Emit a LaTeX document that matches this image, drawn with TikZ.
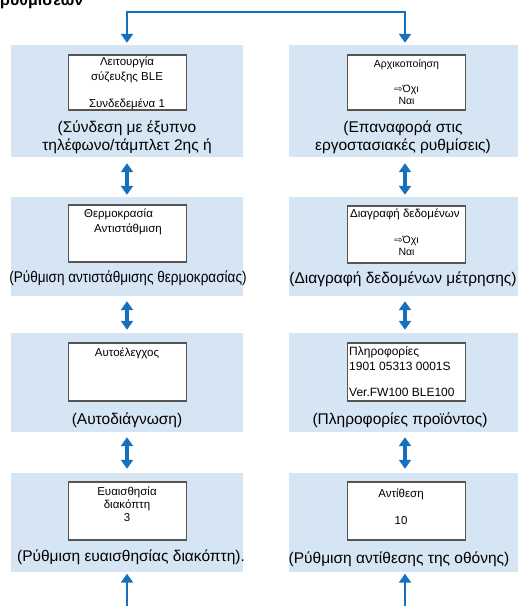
\documentclass[tikz,border=0pt]{standalone}
\usepackage{fontspec}
\usepackage{graphicx}
\setmainfont{Liberation Sans}
\newfontfamily\dejavu{DejaVu Sans}
\usetikzlibrary{arrows.meta}
\definecolor{panelblue}{HTML}{D5E5F4}
\definecolor{arrowblue}{HTML}{1670BE}
\definecolor{screenedge}{HTML}{555555}
\begin{document}
\begin{tikzpicture}[x=1pt,y=-1pt,
  panel/.style={fill=panelblue, draw=none, minimum width=232pt, minimum height=#1, inner sep=0pt},
  screen/.style={fill=white, draw=screenedge, line width=1.8pt, minimum width=118pt, minimum height=#1, inner sep=0pt},
  captext/.style={font=\fontsize{15.5}{18}\selectfont, inner sep=0pt, align=center},
  scr/.style={font=\fontsize{11.5}{13}\selectfont, inner sep=0pt},
  scrinfo/.style={font=\fontsize{12}{13}\selectfont, inner sep=0pt, anchor=west},
  scrsmall/.style={font=\fontsize{10.5}{11}\selectfont, inner sep=0pt},
  dbl/.style={draw=arrowblue, line width=3.5pt,
    {Triangle[width=12pt,length=9pt]}-{Triangle[width=12pt,length=9pt]}},
  conn/.style={draw=arrowblue, line width=2.5pt},
  tip/.style={-{Triangle[width=12pt,length=9pt]}},
  bothtip/.style={{Triangle[width=12pt,length=9pt]}-{Triangle[width=12pt,length=9pt]}}
]
\useasboundingbox (0,0) rectangle (518,606);

% title (cut off at the top)
\node[anchor=base west, font=\bfseries\fontsize{16}{16}\selectfont, inner sep=0pt] (title) at (0,5) {ρυθμίσεων};

% panels
\node[panel=112pt] (p1L) at (127,101) {};
\node[panel=99pt]  (p2L) at (127,246.5) {};
\node[panel=99pt]  (p3L) at (127,382.5) {};
\node[panel=99pt]  (p4L) at (127,522.5) {};
\node[panel=112pt] (p1R) at (405,101) {};
\node[panel=99pt]  (p2R) at (405,246.5) {};
\node[panel=99pt]  (p3R) at (405,382.5) {};
\node[panel=99pt]  (p4R) at (405,522.5) {};

% screens
\node[screen=55pt] (s1L) at (127.5,82.5) {};
\node[screen=57pt] (s2L) at (127.5,233.5) {};
\node[screen=58pt] (s3L) at (127.5,372) {};
\node[screen=58pt] (s4L) at (127.5,511) {};
\node[screen=55pt] (s1R) at (406.5,82.5) {};
\node[screen=57pt] (s2R) at (406.5,234.5) {};
\node[screen=58pt] (s3R) at (406.5,372) {};
\node[screen=58pt] (s4R) at (406.5,511) {};

% screen texts, left column
\node[scr] (t1a) at (127,62) {Λειτουργία};
\node[scr] (t1b) at (127,77) {σύζευξης BLE};
\node[scr] (t1c) at (127,104) {Συνδεδεμένα 1};
\node[scr] (t2a) at (118.5,214) {Θερμοκρασία};
\node[scr] (t2b) at (128,229) {Αντιστάθμιση};
\node[scr] (t3a) at (127,353) {Αυτοέλεγχος};
\node[scr] (t4a) at (127,492) {Ευαισθησία};
\node[scr] (t4b) at (127,505) {διακόπτη};
\node[scr] (t4c) at (127,518) {3};

% screen texts, right column
\node[scrsmall] (u1a) at (406.5,65) {Αρχικοποίηση};
\node[scrsmall] (u1b) at (406.5,90) {{\dejavu\fontsize{10}{10}\selectfont ⇨}Όχι};
\node[scrsmall] (u1c) at (406.5,101) {Ναι};
\node[scr, anchor=west] (u2a) at (350,214) {Διαγραφή δεδομένων};
\node[scrsmall] (u2b) at (406.5,241) {{\dejavu\fontsize{10}{10}\selectfont ⇨}Όχι};
\node[scrsmall] (u2c) at (406.5,252) {Ναι};
\node[scrinfo] (u3a) at (349,352) {Πληροφορίες};
\node[scrinfo] (u3b) at (349,366) {1901 05313 0001S};
\node[scrinfo] (u3c) at (349,392) {Ver.FW100 BLE100};
\node[scr] (u4a) at (401,494) {Αντίθεση};
\node[scr] (u4b) at (401,521) {10};

% captions
\node[captext] (c1L) at (127,137) {(Σύνδεση με έξυπνο\\τηλέφωνο/τάμπλετ 2ης ή};
\node[captext] (c2L) at (128,278) {\scalebox{0.875}[1]{(Ρύθμιση αντιστάθμισης θερμοκρασίας)}};
\node[captext] (c3L) at (127,420) {(Αυτοδιάγνωση)};
\node[captext] (c4L) at (131,557) {(Ρύθμιση ευαισθησίας διακόπτη).};
\node[captext] (c1R) at (403,137) {(Επαναφορά στις\\εργοστασιακές ρυθμίσεις)};
\node[captext] (c2R) at (403,279) {(Διαγραφή δεδομένων μέτρησης)};
\node[captext] (c3R) at (400,420) {(Πληροφορίες προϊόντος)};
\node[captext] (c4R) at (399,559) {(Ρύθμιση αντίθεσης της οθόνης)};

% top connector
\coordinate (topbar) at (266,12);
\draw[conn, bothtip, shorten <=2pt, shorten >=2pt] (p1L.north) |- (topbar) -| (p1R.north);

% double arrows between panels
\draw[dbl, shorten <=6pt, shorten >=2pt] (p1L.south) -- (p2L.north);
\draw[dbl, shorten <=6pt, shorten >=2pt] (p1R.south) -- (p2R.north);
\draw[dbl, shorten <=5pt, shorten >=3pt] (p2L.south) -- (p3L.north);
\draw[dbl, shorten <=5pt, shorten >=3pt] (p2R.south) -- (p3R.north);
\draw[dbl, shorten <=5pt, shorten >=4pt] (p3L.south) -- (p4L.north);
\draw[dbl, shorten <=5pt, shorten >=4pt] (p3R.south) -- (p4R.north);

% bottom arrows
\coordinate (bL) at (127,612);
\coordinate (bR) at (405,612);
\draw[conn, tip, shorten >=1.5pt] (bL) -- (p4L.south);
\draw[conn, tip, shorten >=1.5pt] (bR) -- (p4R.south);
\end{tikzpicture}
\end{document}
